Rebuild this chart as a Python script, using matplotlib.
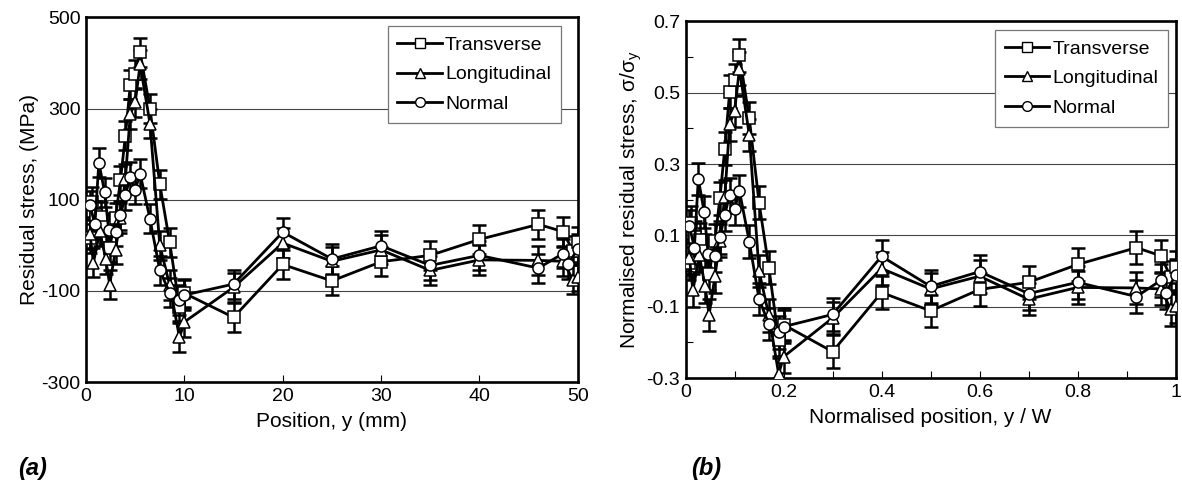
import matplotlib.pyplot as plt
from matplotlib.lines import Line2D
from matplotlib.ticker import MultipleLocator, FixedLocator
import numpy as np

plt.rcParams['font.family'] = ['Liberation Sans', 'DejaVu Sans']
plt.rcParams['mathtext.fontset'] = 'custom'
plt.rcParams['mathtext.rm'] = 'Liberation Sans'
plt.rcParams['mathtext.it'] = 'Liberation Sans:italic'
plt.rcParams['axes.unicode_minus'] = False

# measured residual stress, position in mm, stress in MPa
trans_x = [0.4, 0.6, 1.0, 1.5, 2.0, 2.4, 3.0, 3.5, 4.0, 4.5, 5.0, 5.5, 6.5, 7.5, 8.5, 9.5, 10,
           15, 20, 25, 30, 35, 40, 46, 48.5, 49.5, 50]
trans_y = [15, 95, 66, 62, 40, -5, 60, 143, 240, 352, 375, 423, 300, 134, 7, -135, -105,
           -158, -42, -78, -36, -22, 13, 46, 30, -12, 8]

long_x = [0.4, 0.75, 1.4, 2.0, 2.4, 3.0, 3.5, 4.0, 4.5, 5.0, 5.5, 6.5, 7.5, 8.5, 9.5, 10,
          15, 20, 25, 30, 35, 40, 46, 48.5, 49.5, 50]
long_y = [25, -38, 31, -30, -86, -10, 60, 146, 288, 314, 397, 267, 0, -87, -202, -168,
          -92, 5, -35, -10, -55, -32, -33, -35, -75, -69]

norm_x = [0.4, 0.9, 1.3, 1.9, 2.3, 3.0, 3.5, 4.0, 4.5, 5.0, 5.5, 6.5, 7.5, 8.5, 9.5, 10,
          15, 20, 25, 30, 35, 40, 46, 48.5, 49, 50]
norm_y = [88, 46, 181, 116, 34, 30, 66, 110, 150, 122, 157, 58, -55, -104, -120, -109,
          -85, 29, -30, -1, -44, -22, -50, -18, -42, -8]

err_mpa = 32          # error bar half width, MPa
plate_width = 50.0    # W, mm
yield_stress = 700.0  # sigma_y, MPa

series = [('Transverse', 's', trans_x, trans_y),
          ('Longitudinal', '^', long_x, long_y),
          ('Normal', 'o', norm_x, norm_y)]

fig = plt.figure(figsize=(11.82, 4.95), dpi=100)
ax1 = fig.add_axes([0.0728, 0.228, 0.416, 0.737])
ax2 = fig.add_axes([0.580, 0.236, 0.4146, 0.721])

TICK = 14
LAB = 15


def draw(ax, xscale, yscale):
    handles = []
    for lab, m, x, y in series:
        x = np.asarray(x) / xscale
        y = np.asarray(y) / yscale
        ax.errorbar(x, y, yerr=err_mpa / yscale, fmt='none', ecolor='k',
                    elinewidth=1.8, capsize=5, capthick=1.8, zorder=2)
        ax.plot(x, y, '-', color='k', lw=2.0, marker=m, ms=8, mfc='white',
                mec='k', mew=1.1, zorder=3)
        handles.append(Line2D([], [], color='k', lw=2.0, marker=m, ms=7,
                              mfc='white', mec='k', mew=1.0, label=lab))
    for s in ax.spines.values():
        s.set_linewidth(1.9)
    ax.yaxis.grid(True, color='#444444', lw=0.8)
    ax.set_axisbelow(True)
    ax.tick_params(labelsize=TICK, direction='in', length=5, width=0.8)
    ax.tick_params(axis='y', which='major', length=0, pad=4)
    ax.tick_params(axis='x', which='major', pad=4)
    return handles


def add_legend(ax, handles, anchor):
    leg = ax.legend(handles=handles, loc='upper right', bbox_to_anchor=anchor,
                    borderaxespad=0, fontsize=14, fancybox=False, framealpha=1,
                    edgecolor='#777777', handlelength=2.3, handletextpad=0.15,
                    labelspacing=0.62, borderpad=0.5)
    leg.get_frame().set_linewidth(0.9)


h = draw(ax1, 1.0, 1.0)
ax1.set_xlim(0, 50)
ax1.set_ylim(-300, 500)
ax1.xaxis.set_major_locator(MultipleLocator(10))
ax1.set_yticks([-300, -100, 100, 300, 500], ['-300', '-100', '100', '300', '500'])
ax1.set_xlabel('Position, y (mm)', fontsize=LAB, labelpad=5)
ax1.set_ylabel('Residual stress, (MPa)', fontsize=LAB, labelpad=2)
add_legend(ax1, h, (0.965, 0.975))

h = draw(ax2, plate_width, yield_stress)
ax2.set_xlim(0, 1)
ax2.set_ylim(-0.3, 0.7)
ax2.xaxis.set_minor_locator(MultipleLocator(0.1))
ax2.yaxis.set_minor_locator(FixedLocator([-0.2, 0.0, 0.2, 0.4, 0.6]))
ax2.tick_params(which='minor', direction='in', length=5, width=0.8)
ax2.set_xticks([0, 0.2, 0.4, 0.6, 0.8, 1.0], ['0', '0.2', '0.4', '0.6', '0.8', '1'])
ax2.set_yticks([-0.3, -0.1, 0.1, 0.3, 0.5, 0.7], ['-0.3', '-0.1', '0.1', '0.3', '0.5', '0.7'])
ax2.set_xlabel('Normalised position, y / W', fontsize=LAB, labelpad=5)
ax2.set_ylabel(r'Normalised residual stress, σ/σ$_\mathrm{y}$', fontsize=LAB, labelpad=2)
add_legend(ax2, h, (0.984, 0.975))

fig.text(0.015, 0.04, '(a)', fontsize=17, fontweight='bold', fontstyle='italic')
fig.text(0.585, 0.04, '(b)', fontsize=17, fontweight='bold', fontstyle='italic')

fig.savefig('out.png', dpi=100)
